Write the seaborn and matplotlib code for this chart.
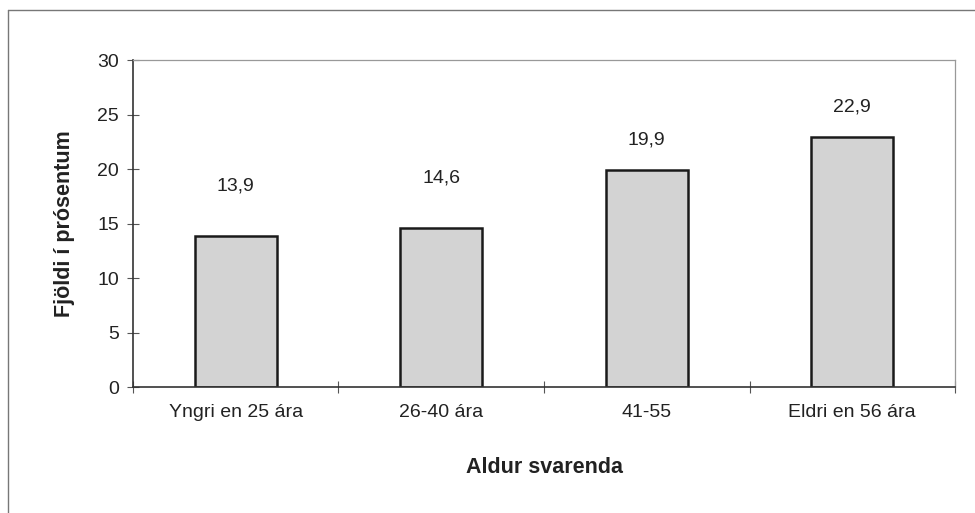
import matplotlib.pyplot as plt
import seaborn as sns
import pandas as pd
from matplotlib.lines import Line2D

# Data
categories = ['Yngri en 25 ára', '26-40 ára', '41-55', 'Eldri en 56 ára']
values = [13.9, 14.6, 19.9, 22.9]
value_labels = ['13,9', '14,6', '19,9', '22,9']
y_ticks = [0, 5, 10, 15, 20, 25, 30]

df = pd.DataFrame({'aldur': categories, 'hlutfall': values})

sns.set_style('white')
plt.rcParams['font.family'] = ['Liberation Sans', 'DejaVu Sans']

fig = plt.figure(figsize=(9.75, 5.13), dpi=100)
ax = fig.add_axes([0.1364, 0.2456, 0.8431, 0.6374])

sns.barplot(data=df, x='aldur', y='hlutfall', ax=ax, width=0.4,
            color='#d3d3d3', edgecolor='#1a1a1a', linewidth=1.8, saturation=1)

# gap between bar top and its label (the original placed them unevenly)
label_gap = [3.8, 3.8, 2.0, 2.0]
for i, (v, lab) in enumerate(zip(values, value_labels)):
    ax.text(i, v + label_gap[i], lab, ha='center', va='bottom', fontsize=14,
            color='#222222')

ax.set_xlim(-0.5, 3.5)
ax.set_ylim(0, 30)
ax.set_yticks(y_ticks)
ax.tick_params(axis='y', direction='inout', length=8, width=0.8, labelsize=14,
               colors='#555555', labelcolor='#222222', pad=6, left=True)
ax.set_xticks([-0.5, 0.5, 1.5, 2.5, 3.5], minor=True)
ax.tick_params(axis='x', which='minor', direction='inout', length=8, width=0.8,
               colors='#555555', bottom=True)
ax.tick_params(axis='x', which='major', length=0, labelsize=14,
               labelcolor='#222222', pad=12)

ax.set_xlabel('Aldur svarenda', fontsize=15.5, fontweight='bold', labelpad=26,
              color='#222222')
ax.set_ylabel('Fjöldi í prósentum', fontsize=15.5, fontweight='bold', labelpad=16,
              color='#222222')

for side in ['left', 'bottom']:
    ax.spines[side].set_color('#333333')
    ax.spines[side].set_linewidth(1.2)
for side in ['top', 'right']:
    ax.spines[side].set_visible(True)
    ax.spines[side].set_color('#999999')
    ax.spines[side].set_linewidth(0.9)

# outer frame of the chart
fig.add_artist(Line2D([8 / 975, 1.0], [1 - 10 / 513, 1 - 10 / 513],
                      transform=fig.transFigure, color='#777777', linewidth=1))
fig.add_artist(Line2D([8 / 975, 8 / 975], [0, 1 - 10 / 513],
                      transform=fig.transFigure, color='#777777', linewidth=1))

fig.savefig('out.png', dpi=100)
